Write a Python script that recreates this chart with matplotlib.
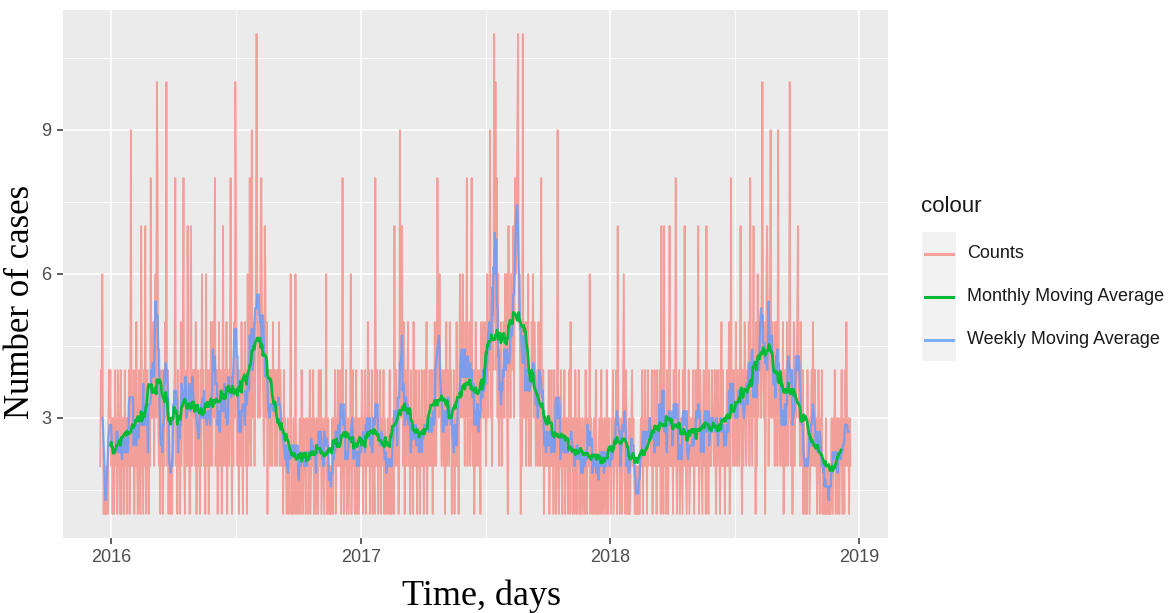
import numpy as np
import pandas as pd
import matplotlib
matplotlib.use("Agg")
import matplotlib.pyplot as plt
from matplotlib.lines import Line2D
from matplotlib.patches import Rectangle

# daily counts, one string per month, one character per day (hex: a=10, b=11)
# first day is 2015-12-16
counts_2015 = ["2436312111213434"]
counts_2016 = [
    "2313124 2314321 4132314 2313241 392",
    "3241325 2134217 3214271 3421328 3",
    "4352463 a832413 2413253 a241321 213",
    "2348231 4231523 4821342 7231472 34",
    "3425134 2314263 4231624 3142532 535",
    "8234135 2431372 4325143 2483142 53",
    "a732413 4253143 5241623 8329435 246",
    "b635437 8543276 3514342 4325342 342",
    "4352432 3142321 2312261 2132162 12",
    "2132142 1322132 3124123 2413213 214",
    "3241232 1326123 1212131 3241324 23",
    "2413821 3241231 2361242 3124132 132",
]
counts_2017 = [
    "2431324 1325241 3241321 8234132 413",
    "3241321 2312412 1321723 4231293",
    "4732514 3245231 4231523 2413241 324",
    "2314235 1324324 3142532 4853643 24",
    "3241352 4325341 3241325 2314635 463",
    "4253824 3524832 4135243 2431534 53",
    "3524635 4935264 b5a4836 2435243 536",
    "4631745 3645736 8679b56 4152b34 352",
    "5362432 5463542 3425324 8324132 32",
    "3241324 2314231 3921324 2132413 231",
    "2415231 3214213 2413123 1231421 32",
    "2613212 3124121 2312413 2132142 132",
]
counts_2018 = [
    "2132412 3241723 1231246 2143121 312",
    "3423212 1211212 3241324 2314233",
    "3241324 2314232 4172317 2314213 723",
    "2314238 2132412 3214273 2132412 32",
    "3241324 2371243 2134231 7231423 243",
    "3243142 3421352 4231324 2351283 42",
    "3425324 3247314 2354234 3528432 473",
    "4152635 4536a43 5136752 4593453 425",
    "3529432 4325134 235243a 3241352 43",
    "4573425 3241321 2142312 3425324 231",
    "2431324 1212131 2112113 2132412 31",
    "3213241 2314253 23132",
]

W, H = 1168, 613
RED, GREEN, BLUE = "#F8766D", "#00BA38", "#619CFF"

text = "".join(counts_2015 + counts_2016 + counts_2017 + counts_2018).replace(" ", "")
counts = [int(c, 16) for c in text]
dates = pd.date_range("2015-12-16", periods=len(counts), freq="D")
s = pd.Series(counts, index=dates, dtype=float)
weekly = s.rolling(7, center=True).mean()
monthly = s.rolling(30, center=True).mean()

plt.rcParams["font.family"] = ["Liberation Sans", "DejaVu Sans"]
fig = plt.figure(figsize=(W / 100, H / 100), dpi=100)
ax = fig.add_axes([62.7 / W, 1 - 538 / H, (888 - 62.7) / W, (538 - 10) / H])
ax.set_facecolor("#EBEBEB")
for sp in ax.spines.values():
    sp.set_visible(False)

ax.plot(dates, counts, color=RED, lw=1.3, alpha=0.65, zorder=3)
ax.plot(dates, weekly, color=BLUE, lw=1.6, alpha=0.8, zorder=4)
ax.plot(dates, monthly, color=GREEN, lw=1.9, zorder=5)

span = dates[-1] - dates[0]
ax.set_xlim(dates[0] - span * 0.05, dates[-1] + span * 0.05)
ax.set_ylim(0.5, 11.5)

years = pd.to_datetime(["2016-01-01", "2017-01-01", "2018-01-01", "2019-01-01"])
mids = [years[i] + (years[i + 1] - years[i]) / 2 for i in range(len(years) - 1)]
ax.set_xticks(years)
ax.set_xticklabels([str(y.year) for y in years])
ax.set_xticks(mids, minor=True)
ax.set_yticks([3, 6, 9])
ax.set_yticks([1.5, 4.5, 7.5, 10.5], minor=True)
ax.grid(which="major", color="white", lw=1.2, zorder=0)
ax.grid(which="minor", color="white", lw=0.6, zorder=0)
ax.set_axisbelow(True)
ax.tick_params(which="major", length=4, width=1.1, color="#333333",
               labelcolor="#4D4D4D", labelsize=13, pad=4)
ax.tick_params(which="minor", length=0)

def fx(x, y):
    return x / W, 1 - y / H

serif = ["Liberation Serif", "DejaVu Serif"]
fig.text(*fx(21, 302), "Number of cases", rotation=90, ha="center", va="center",
         fontsize=25, family=serif, color="black")
fig.text(*fx(481, 596), "Time, days", ha="center", va="center",
         fontsize=26, family=serif, color="black")

# legend
fig.text(*fx(921, 207), "colour", ha="left", va="center", fontsize=16, color="#1A1A1A")
labels = ["Counts", "Monthly Moving Average", "Weekly Moving Average"]
cols = [(RED, 0.65), (GREEN, 1.0), (BLUE, 0.8)]
for i, (lab, (c, a)) in enumerate(zip(labels, cols)):
    y0 = 232 + i * 43
    x0, y1 = fx(922, y0 + 43)
    fig.add_artist(Rectangle((x0, y1), 34 / W, 43 / H, transform=fig.transFigure,
                             facecolor="#F2F2F2", edgecolor="none"))
    yc = y0 + 21.5
    fig.add_artist(Line2D([925 / W, 953 / W], [1 - yc / H] * 2, transform=fig.transFigure,
                          color=c, alpha=a, lw=2.2))
    fig.text(*fx(967, yc), lab, ha="left", va="center", fontsize=13, color="#1A1A1A")

fig.savefig("out.png", dpi=100)
